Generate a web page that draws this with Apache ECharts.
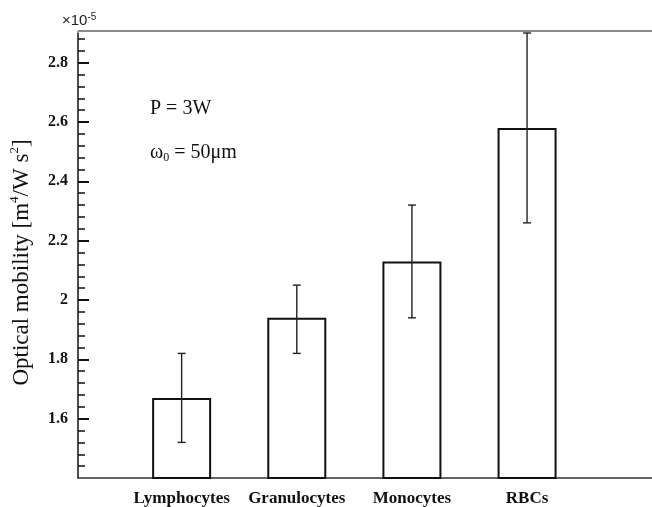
<!DOCTYPE html>
<html>
<head>
<meta charset="utf-8">
<script src="https://cdn.jsdelivr.net/npm/echarts@6/dist/echarts.min.js"></script>
<style>html,body{margin:0;padding:0;background:#fff}#c{width:652px;height:507px}</style>
</head>
<body>
<div id="c"></div>
<script>
const categories = ['Lymphocytes', 'Granulocytes', 'Monocytes', 'RBCs'];
const means = [1.67, 1.94, 2.13, 2.58];
const errLow = [1.52, 1.82, 1.94, 2.26];
const errHigh = [1.82, 2.05, 2.32, 2.90];
const yMajorTicks = [1.6, 1.8, 2.0, 2.2, 2.4, 2.6, 2.8];
const yMinorTicks = [1.44, 1.48, 1.52, 1.56, 1.64, 1.68, 1.72, 1.76, 1.84, 1.88, 1.92, 1.96,
  2.04, 2.08, 2.12, 2.16, 2.24, 2.28, 2.32, 2.36, 2.44, 2.48, 2.52, 2.56,
  2.64, 2.68, 2.72, 2.76, 2.84, 2.88];

const SERIF = "'Liberation Serif','Times New Roman',serif";
const SANS = "'Liberation Sans',Arial,sans-serif";
const chart = echarts.init(document.getElementById('c'), null, {renderer: 'canvas'});

const barData = means.map((v, i) => [i + 1, v]);
const errData = categories.map((c, i) => [i + 1, errLow[i], errHigh[i]]);

chart.setOption({
  animation: false,
  backgroundColor: '#fff',
  grid: {left: 78, right: 0, top: 33, bottom: 29, containLabel: false},
  title: [
    {
      text: '{a|×10}{b|-5}', left: 62, top: 12, padding: 0,
      textStyle: {fontWeight: 'normal', rich: {
        a: {fontFamily: SANS, fontSize: 15, fontWeight: 'normal', color: '#222', lineHeight: 18},
        b: {fontFamily: SANS, fontSize: 10, fontWeight: 'normal', color: '#222', lineHeight: 10, verticalAlign: 'top'}
      }}
    },
    {
      text: 'P = 3W', left: 150, top: 99, padding: 0,
      textStyle: {fontFamily: SERIF, fontSize: 20, fontWeight: 'normal', color: '#111', lineHeight: 20}
    },
    {
      text: '{a|ω}{b|0}{a| = 50μm}', left: 150, top: 142, padding: 0,
      textStyle: {fontWeight: 'normal', rich: {
        a: {fontFamily: SERIF, fontSize: 20, fontWeight: 'normal', color: '#111', lineHeight: 22},
        b: {fontFamily: SERIF, fontSize: 12, fontWeight: 'normal', color: '#111', lineHeight: 12, verticalAlign: 'bottom'}
      }}
    }
  ],
  xAxis: [
    {
      type: 'value', min: 0.1, max: 5.085, position: 'bottom',
      axisLine: {show: true, lineStyle: {color: '#333', width: 1.5}},
      axisTick: {show: false},
      splitLine: {show: false},
      axisLabel: {
        customValues: [1, 2, 3, 4],
        formatter: v => categories[Math.round(v) - 1] || '',
        fontFamily: SERIF, fontSize: 17, fontWeight: 'bold', color: '#111', margin: 12
      }
    },
    {
      type: 'value', min: 0.1, max: 5.085, position: 'top', offset: 2,
      axisLine: {show: true, lineStyle: {color: '#666', width: 1.5}},
      axisTick: {show: false}, axisLabel: {show: false}, splitLine: {show: false}
    }
  ],
  yAxis: [
    {
      type: 'value', min: 1.4, max: 2.9, position: 'left',
      axisLine: {show: true, lineStyle: {color: '#111', width: 1.5}},
      axisTick: {show: true, inside: true, length: 11, customValues: yMajorTicks, lineStyle: {color: '#111', width: 2}},
      splitLine: {show: false},
      axisLabel: {
        customValues: yMajorTicks,
        formatter: v => String(Math.round(v * 10) / 10),
        fontFamily: SERIF, fontSize: 16, fontWeight: 'bold', color: '#111', margin: 10
      },
      name: '{t|Optical mobility [m}{s|4}{t|/W s}{s|2}{t|]}',
      nameLocation: 'middle', nameRotate: 90, nameGap: 42,
      nameTextStyle: {padding: [0, 14, 0, 0], rich: {
        t: {fontFamily: SERIF, fontSize: 23, fontWeight: 'normal', color: '#111', lineHeight: 28},
        s: {fontFamily: SERIF, fontSize: 13, fontWeight: 'normal', color: '#111', lineHeight: 14, verticalAlign: 'top'}
      }}
    },
    {
      type: 'value', min: 1.4, max: 2.9, position: 'left',
      axisLine: {show: false},
      axisTick: {show: true, inside: true, length: 7, customValues: yMinorTicks, lineStyle: {color: '#111', width: 1.5}},
      axisLabel: {show: false}, splitLine: {show: false}
    }
  ],
  series: [
    {
      type: 'bar', xAxisIndex: 0, yAxisIndex: 0, data: barData, barWidth: 59,
      itemStyle: {color: '#fff', borderColor: '#111', borderWidth: 2},
      z: 2
    },
    {
      type: 'custom', xAxisIndex: 0, yAxisIndex: 0, data: errData, z: 5,
      renderItem: function (params, api) {
        const x = api.value(0), lo = api.value(1), hi = api.value(2);
        const pt = api.coord([x, hi]);
        const pb = api.coord([x, lo]);
        const cw = 4;
        const st = {stroke: '#222', lineWidth: 1.4};
        return {
          type: 'group',
          children: [
            {type: 'line', shape: {x1: pt[0], y1: pt[1], x2: pb[0], y2: pb[1]}, style: st},
            {type: 'line', shape: {x1: pt[0] - cw, y1: pt[1], x2: pt[0] + cw, y2: pt[1]}, style: st},
            {type: 'line', shape: {x1: pb[0] - cw, y1: pb[1], x2: pb[0] + cw, y2: pb[1]}, style: st}
          ]
        };
      }
    }
  ]
});
</script>
</body>
</html>
